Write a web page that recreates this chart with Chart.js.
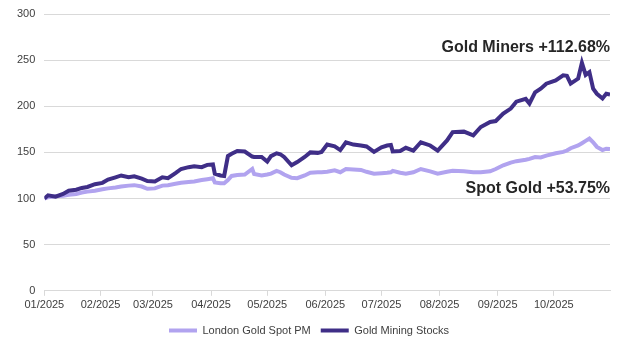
<!DOCTYPE html>
<html>
<head>
<meta charset="utf-8">
<script src="https://cdn.jsdelivr.net/npm/chart.js@4"></script>
<style>
    html, body { margin: 0; padding: 0; background: #fff; }
    #wrap { width: 624px; height: 348px; }
</style>
</head>
<body>
<div id="wrap"><canvas id="goldChart"></canvas></div>
<script>
/* ================= DATA ================= */
const dates = [
    "01-02", "01-04", "01-08", "01-12", "01-15", "01-19", "01-22", "01-25", "01-29",
    "02-02", "02-05", "02-09", "02-12", "02-16", "02-19", "02-23", "02-26",
    "03-02", "03-06", "03-09", "03-13", "03-16", "03-20", "03-23", "03-27", "03-30",
    "04-02", "04-03", "04-06", "04-08", "04-10", "04-12", "04-15", "04-19", "04-23", "04-24", "04-28",
    "05-01", "05-03", "05-06", "05-08", "05-10", "05-14", "05-17", "05-21", "05-24", "05-28", "05-30",
    "06-02", "06-06", "06-09", "06-12", "06-16", "06-20", "06-23", "06-27",
    "07-01", "07-04", "07-06", "07-07", "07-11", "07-14", "07-18", "07-22", "07-27", "07-31",
    "08-05", "08-08", "08-14", "08-19", "08-23", "08-28", "08-31",
    "09-04", "09-08", "09-11", "09-16", "09-18", "09-21", "09-24", "09-27",
    "10-02", "10-06", "10-08", "10-10", "10-14", "10-16", "10-18", "10-20", "10-22", "10-24", "10-27", "10-29", "10-31"
];

const spotGold = [
    100, 101.5, 102.5, 103, 104, 105, 106.5, 107.5, 108.5,
    110, 111, 112, 113, 114, 114.5, 113, 110.5,
    111, 114, 114.5, 116, 117, 118, 118.5, 120, 121,
    122, 117.5, 116.5, 116.5, 120, 124.5, 125.5, 126, 132, 126.5, 125,
    126, 127, 130, 128.5, 126, 122.5, 122, 125, 128, 128.5, 128.5,
    129, 130.5, 128.5, 132, 131.5, 131, 129, 127,
    127.5, 128, 128.5, 130, 128, 127, 128.5, 132, 129.5, 127,
    129, 130, 129.5, 128.5, 128.5, 129.5, 132,
    136, 139, 140.5, 142, 143, 145, 144.5, 146.5,
    149, 150.5, 152, 154.5, 157.5, 160, 162.5, 165, 161, 156, 152.5, 154, 153.75
];

const goldMiners = [
    100, 103.5, 102, 105, 108.5, 109.5, 111.5, 112.5, 115.5,
    117, 120.5, 123, 125, 123, 124, 121.5, 119,
    118.5, 123, 122, 127.5, 132, 134, 135, 134, 136.5,
    137, 127, 125, 124.5, 146, 148.5, 151.5, 151, 145.5, 145, 145,
    140, 146, 149, 148, 145, 136, 139.5, 145, 150, 149.5, 150.5,
    158.5, 156.5, 152.5, 161, 158.5, 157.5, 156.5, 150.5,
    155.5, 157.5, 158, 151, 151.5, 155, 152, 161, 157.5, 152,
    163, 172, 172.5, 168.5, 177.5, 183, 184,
    192, 197.5, 205, 208, 203, 215, 219, 224.5,
    228, 233.5, 233, 224.5, 230, 247, 234, 237, 219, 213.5, 208.5, 213.5, 212.68
];

const monthStarts = ["01-01", "02-01", "03-01", "04-01", "05-01", "06-01", "07-01", "08-01", "09-01", "10-01"];
const monthLabels = ["01/2025", "02/2025", "03/2025", "04/2025", "05/2025", "06/2025", "07/2025", "08/2025", "09/2025", "10/2025"];

const seriesNames = ["London Gold Spot PM", "Gold Mining Stocks"];
const callouts = [
    { text: "Gold Miners +112.68%", value: 259 },
    { text: "Spot Gold +53.75%", value: 106 }
];

/* ================= HELPERS ================= */
function dayOfYear(mmdd) {
    const [m, d] = mmdd.split("-").map(Number);
    return (Date.UTC(2025, m - 1, d) - Date.UTC(2025, 0, 1)) / 86400000;
}

function toPoints(values) {
    return values.map((v, i) => ({ x: dayOfYear(dates[i]), y: v }));
}

const firstDay = dayOfYear(dates[0]);
const lastDay = dayOfYear(dates[dates.length - 1]);

const calloutPlugin = {
    id: "callouts",
    afterDatasetsDraw(chart) {
        const ctx = chart.ctx;
        const y = chart.scales.y;
        ctx.save();
        ctx.font = "bold 16px 'Liberation Sans', Arial, sans-serif";
        ctx.fillStyle = "#262626";
        ctx.textAlign = "right";
        ctx.textBaseline = "alphabetic";
        callouts.forEach(c => {
            ctx.fillText(c.text, chart.chartArea.right, y.getPixelForValue(c.value));
        });
        ctx.restore();
    }
};

/* ================= CHART ================= */
Chart.defaults.font.family = "'Liberation Sans', Arial, sans-serif";
Chart.defaults.font.size = 11;
Chart.defaults.color = "#404040";

new Chart(document.getElementById("goldChart"), {
    type: "line",
    data: {
        datasets: [
            {
                label: seriesNames[0],
                data: toPoints(spotGold),
                borderColor: "#b1a3ef",
                backgroundColor: "#b1a3ef",
                borderWidth: 4,
                pointRadius: 0,
                order: 2
            },
            {
                label: seriesNames[1],
                data: toPoints(goldMiners),
                borderColor: "#3f2e87",
                backgroundColor: "#3f2e87",
                borderWidth: 4,
                pointRadius: 0,
                order: 1
            }
        ]
    },
    options: {
        responsive: true,
        maintainAspectRatio: false,
        animation: false,
        layout: { padding: { top: 14, right: 14, bottom: 2, left: 8 } },
        plugins: {
            tooltip: { enabled: false },
            legend: {
                position: "bottom",
                labels: {
                    boxWidth: 28,
                    boxHeight: 4,
                    padding: 10,
                    color: "#404040",
                    sort: (a, b) => a.datasetIndex - b.datasetIndex,
                    generateLabels: chart =>
                        Chart.defaults.plugins.legend.labels.generateLabels(chart).map(l => ({
                            ...l, lineWidth: 0, fillStyle: l.strokeStyle
                        }))
                }
            }
        },
        scales: {
            x: {
                type: "linear",
                min: firstDay,
                max: lastDay,
                afterFit: scale => { scale.paddingLeft = 0; },
                afterBuildTicks: scale => {
                    scale.ticks = monthStarts.map(m => ({ value: Math.max(dayOfYear(m), firstDay) }));
                },
                ticks: {
                    autoSkip: false,
                    maxRotation: 0,
                    padding: 3,
                    callback: (v, i) => monthLabels[i]
                },
                grid: {
                    drawOnChartArea: false,
                    drawTicks: true,
                    tickLength: 5,
                    color: "#d9d9d9"
                },
                border: { display: true, color: "#d9d9d9" }
            },
            y: {
                min: 0,
                max: 300,
                afterFit: scale => { scale.paddingTop = 0; },
                ticks: { stepSize: 50, padding: 9 },
                grid: { color: "#d9d9d9", drawTicks: false },
                border: { display: false }
            }
        }
    },
    plugins: [calloutPlugin]
});
</script>
</body>
</html>
